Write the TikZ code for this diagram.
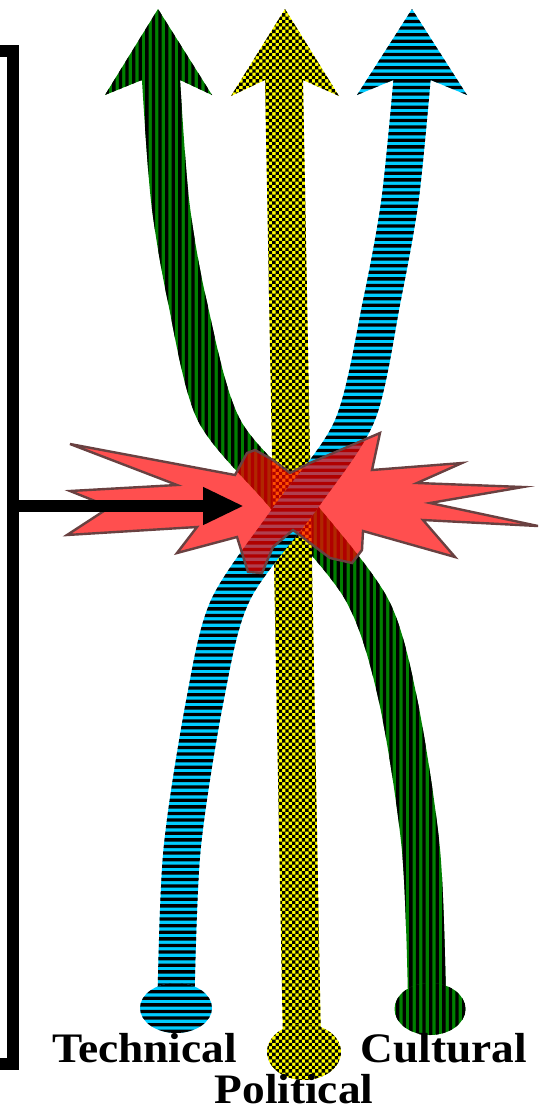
\documentclass[tikz,border=0pt]{standalone}
\usepackage{fontspec}
\setmainfont{Liberation Serif}
\usetikzlibrary{arrows.meta}
\definecolor{cgreen}{RGB}{0,128,0}
\definecolor{cblue}{RGB}{0,204,255}
\definecolor{cyellow}{RGB}{255,255,0}
\definecolor{boomred}{RGB}{255,0,0}
\definecolor{boomline}{RGB}{105,65,65}
\newcommand\gpath{(158,9) -- (212,95) --
  plot[smooth] coordinates {(180.05,80) (189.1,200) (206.5,300) (240.4,420) (318.6,507) (388.6,600) (417.4,700) (440.1,850) (446,1000)}
  -- plot[smooth] coordinates {(408,1000) (401.9,850) (378.6,700) (345.4,600) (269.4,507) (197.6,420) (167.5,300) (150.9,200) (141.95,80)}
  -- (105,95) -- cycle}
\newcommand\bpath{(412,9) -- (467,95) --
  plot[smooth] coordinates {(430.6,80) (418.7,200) (400.9,300) (375,420) (318.6,507) (250,600) (223.8,700) (200.6,850) (194.5,1000)}
  -- plot[smooth] coordinates {(157.5,1000) (163.4,850) (186.2,700) (211,600) (273.4,507) (335,420) (363.1,300) (381.3,200) (393.4,80)}
  -- (357,95) -- cycle}
\newcommand\ypath{(285,9) -- (339,96) -- (303,80) -- (321,1045) -- (283,1045) -- (265,80) -- (231,96) -- cycle}
\newcommand\gdot{(430,1009) ellipse [x radius=35.5pt, y radius=26pt]}
\newcommand\bdot{(176,1008) ellipse [x radius=36pt, y radius=25pt]}
\newcommand\ydot{(304,1052) ellipse [x radius=37pt, y radius=28pt]}
% stripe fillers (used inside a clip)
\newcommand\vstripes[2]{\fill[black] \foreach \i in {0,...,#2} {({#1+6.6*\i},0) rectangle ++(3.3,1111)};}
\newcommand\hstripes[2]{\fill[black] \foreach \i in {0,...,168} {(#1,{6.6*\i}) rectangle (#2,{6.6*\i+3.3})};}
\newcommand\checks{\fill[black, even odd rule]
  \foreach \i in {0,...,18} {({226+6.6*\i},0) rectangle ++(3.3,1111)}
  \foreach \j in {0,...,168} {(220,{6.6*\j}) rectangle (350,{6.6*\j+3.3})};}
\begin{document}
\begin{tikzpicture}[x=1pt,y=-1pt,
  boom/.style={fill=boomred, fill opacity=0.69, draw=boomline, draw opacity=1, line width=2.4pt, line join=miter},
  lbl/.style={font=\fontsize{42pt}{42pt}\selectfont\bfseries, anchor=base, inner sep=0pt, xscale=1.08},
  bracketline/.style={line width=12pt, line join=miter}
]
\useasboundingbox (0,0) rectangle (540,1111);

% green (bottom layer)
\fill[cgreen] \gpath;
\begin{scope}\clip \gpath; \vstripes{99}{58}\end{scope}
\fill[cgreen] \gdot;
\begin{scope}\clip \gdot; \vstripes{99}{58}\end{scope}

% yellow
\fill[cyellow] \ypath;
\begin{scope}\clip \ypath; \checks\end{scope}
\fill[cyellow] \ydot;
\begin{scope}\clip \ydot; \checks\end{scope}

% blue (top layer)
\fill[cblue] \bpath;
\begin{scope}\clip \bpath; \hstripes{130}{480}\end{scope}
\fill[cblue] \bdot;
\begin{scope}\clip \bdot; \hstripes{130}{480}\end{scope}

% explosion
\path[boom] (70,444) -- (235,475) -- (247,453) -- (255,450) -- (273,460) -- (290,473) -- (310,463)
  -- (380,433) -- (372,470) -- (462,463) -- (417,483) -- (523,487) -- (430,503)
  -- (538,526) -- (423,520) -- (455,557) -- (363,531) -- (362,550) -- (352,563)
  -- (330,558) -- (310,543) -- (293,530) -- (273,547) -- (262,573) -- (248,572) -- (237,537)
  -- (177,553) -- (197,527) -- (67,535) -- (110,507) -- (70,491) -- (177,485) -- cycle;

% bracket and arrow
\draw[bracketline] (-2,51) -- (13,51) -- (13,1064) -- (-2,1064);
\coordinate (brk) at (13,506);
\coordinate (hit) at (244,506);
\draw[line width=12pt, -{Triangle[length=41pt,width=35pt]}] (brk) -- (hit);

% labels
\node[lbl] (tech) at (144.5,1062) {Technical};
\node[lbl] (cult) at (444,1062) {Cultural};
\node[lbl] (poli) at (294,1103) {Political};
\end{tikzpicture}
\end{document}
